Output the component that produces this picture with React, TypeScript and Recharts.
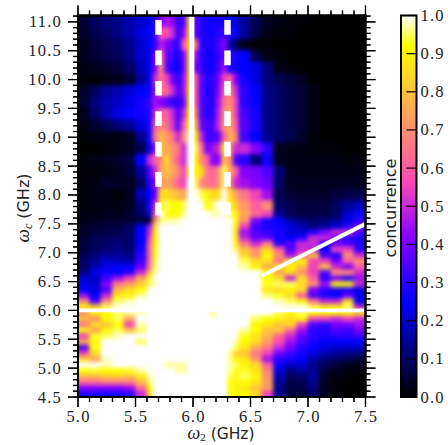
import { Label, ReferenceArea, ReferenceLine, Scatter, ScatterChart, XAxis, YAxis } from "recharts";

const CHART_W = 448;
const CHART_H = 445;
const PLOT = { left: 78, right: 365.5, top: 15.5, bottom: 397 };
const BAR = { left: 401, right: 416.5 };
const INK = "#222";
const TICK_FONT = "'Liberation Serif', serif";
const SANS_FONT = "'DejaVu Sans', sans-serif";

// measured cell centres, finer around the two qubit resonances
const colCentres = [
  5.05, 5.15, 5.25, 5.35, 5.45, 5.55,
  5.625, 5.675, 5.725, 5.775, 5.825, 5.875, 5.925, 5.975, 6.025, 6.075, 6.125, 6.175, 6.225, 6.275, 6.325, 6.375,
  6.45, 6.55, 6.65, 6.75, 6.85, 6.95, 7.05, 7.15, 7.25, 7.35, 7.45,
];
const rowCentres = [
  11.0, 10.8, 10.6, 10.4, 10.2, 10.0, 9.8, 9.6, 9.4, 9.2, 9.0, 8.8, 8.6, 8.4, 8.2, 8.0, 7.8,
  7.65, 7.55, 7.45, 7.35, 7.25, 7.15, 7.05, 6.95, 6.85, 6.75, 6.65, 6.55, 6.45, 6.35, 6.25, 6.15, 6.05,
  5.95, 5.85, 5.75, 5.65, 5.55, 5.45, 5.35, 5.25, 5.15, 5.05, 4.95, 4.85, 4.75, 4.65, 4.55,
];

// concurrence in hundredths, one array per row of the map
const r1100 = [5,9,12,14,17,20, 24,30,42,46,44,30,36,85,35,30,27,27,28,28,25,22, 15,8,3,2,1,1,0,0,0,0,0];
const r1080 = [4,8,10,13,17,22, 26,30,58,58,50,32,44,85,35,30,27,27,30,33,30,25, 15,7,2,1,1,0,0,0,0,0,0];
const r1060 = [3,6,8,10,14,20, 25,32,48,42,35,30,58,85,65,30,28,28,34,42,16,10, 3,1,1,0,0,0,0,0,0,0,0];
const r1040 = [3,5,7,9,13,20, 25,40,65,40,30,27,42,85,45,30,27,27,32,40,30,28, 25,8,2,1,0,0,0,0,0,0,0];
const r1020 = [2,3,4,6,10,18, 25,42,70,36,28,26,40,85,40,32,27,27,34,45,28,27, 25,22,12,2,1,0,0,0,0,0,0];
const r1000 = [1,1,2,3,5,15, 25,50,65,55,40,30,45,85,60,36,30,30,40,55,60,42, 27,22,12,8,6,3,0,0,0,0,0];
const r980 = [4,9,14,17,21,25, 27,45,65,62,50,35,45,88,60,35,28,30,42,60,70,50, 30,25,13,10,7,5,2,0,0,0,0];
const r960 = [5,12,17,20,23,27, 32,45,42,36,32,30,40,90,60,35,30,30,45,65,70,55, 30,26,13,10,7,5,2,0,0,0,0];
const r940 = [3,10,17,22,25,27, 30,50,60,60,50,35,50,92,70,35,30,30,48,70,75,55, 33,27,13,10,7,5,2,0,0,0,0];
const r920 = [2,5,8,12,15,22, 28,60,68,64,52,36,60,95,80,40,33,34,50,72,75,60, 35,28,13,10,7,5,2,0,0,0,0];
const r900 = [1,2,2,2,3,14, 28,65,78,72,65,50,70,100,90,50,33,33,38,60,78,68, 33,25,14,10,8,4,1,0,0,0,0];
const r880 = [0,0,1,2,3,8, 25,45,80,75,72,65,50,100,95,65,40,45,50,90,70,50, 50,42,30,3,2,2,1,1,1,0,0];
const r860 = [1,2,3,4,6,25, 50,60,70,85,70,60,50,100,92,70,60,42,42,80,70,35, 30,12,27,3,2,2,2,2,2,1,1];
const r840 = [1,1,2,3,5,15, 35,50,75,80,75,68,55,95,92,85,65,60,70,95,75,60, 42,40,35,12,3,2,2,2,2,2,2];
const r820 = [1,2,4,4,3,10, 30,42,72,75,70,60,55,100,95,70,65,62,70,95,70,50, 45,42,38,10,3,3,3,3,3,3,3];
const r800 = [1,2,2,1,3,18, 25,40,85,85,82,78,75,100,100,95,90,85,85,100,85,75, 65,55,45,8,5,4,4,4,6,7,8];
const r780 = [1,2,2,2,3,12, 28,50,90,95,92,92,95,100,100,100,92,95,100,100,92,82, 72,60,70,10,8,6,6,6,10,15,18];
const r765 = [2,2,3,3,5,10, 20,60,100,92,90,92,97,100,100,100,100,98,98,100,95,90, 75,62,55,15,8,7,7,7,10,20,27];
const r755 = [2,3,4,5,5,5, 5,70,95,97,97,98,100,100,100,100,100,100,100,100,100,93, 70,40,28,25,17,12,10,12,15,22,30];
const r745 = [3,5,6,7,10,22, 45,85,100,100,100,100,100,100,100,100,100,100,100,100,100,90, 55,33,28,27,22,17,12,15,22,30,40];
const r735 = [4,6,7,8,10,25, 50,88,100,100,100,100,100,100,100,100,100,100,100,100,100,88, 45,35,30,28,22,20,30,40,50,50,35];
const r725 = [5,8,9,10,10,25, 55,90,100,100,100,100,100,100,100,100,100,100,100,100,100,90, 50,38,38,27,25,30,50,50,40,30,28];
const r715 = [6,9,10,12,10,25, 60,92,100,100,100,100,100,100,100,100,100,100,100,100,100,90, 65,50,65,30,35,50,50,30,38,35,30];
const r705 = [6,9,11,13,11,28, 62,93,100,100,100,100,100,100,100,100,100,100,100,100,100,95, 80,70,85,60,35,50,50,25,55,55,30];
const r695 = [8,12,15,15,13,30, 62,93,100,100,100,100,100,100,100,100,100,100,100,100,100,100, 85,72,92,70,45,60,80,35,30,70,50];
const r685 = [10,15,20,18,17,33, 62,95,100,100,100,100,100,100,100,100,100,100,100,100,100,100, 95,85,85,65,85,90,55,55,40,60,70];
const r675 = [10,17,23,25,25,38, 65,95,100,100,100,100,100,100,100,100,100,100,100,100,100,100, 97,90,75,85,90,80,55,80,50,40,60];
const r665 = [12,22,27,25,30,50, 80,97,100,100,100,100,100,100,100,100,100,100,100,100,100,100, 100,100,92,75,85,70,55,35,70,70,50];
const r655 = [22,20,33,45,55,75, 93,100,100,100,100,100,100,100,100,100,100,100,100,100,100,100, 100,100,92,85,50,85,60,30,40,30,45];
const r645 = [22,20,42,65,72,82, 95,98,100,100,100,100,100,100,100,100,100,100,100,100,100,100, 100,100,93,95,95,85,70,45,90,90,50];
const r635 = [25,22,35,78,85,92, 100,100,100,100,100,100,100,100,100,100,100,100,100,100,100,100, 100,100,88,85,90,85,40,30,28,28,22];
const r625 = [45,25,50,88,90,97, 100,100,100,100,100,100,100,100,100,100,100,100,100,100,100,100, 100,100,96,93,85,60,35,28,25,38,25];
const r615 = [70,35,70,95,98,100, 100,100,100,100,100,100,100,100,100,100,100,100,100,100,100,100, 100,100,100,98,95,90,65,50,50,85,25];
const r605 = [90,85,95,100,100,100, 100,100,100,100,100,100,100,100,100,100,100,100,100,100,100,100, 100,100,100,100,100,100,95,90,90,95,50];
const r595 = [70,90,90,95,97,98, 100,100,100,100,100,100,100,100,100,100,100,95,100,100,100,100, 100,100,100,95,90,95,92,90,90,90,85];
const r585 = [80,70,92,95,75,100, 100,100,100,100,100,100,100,100,100,100,100,100,100,100,100,100, 100,95,92,90,85,92,55,55,50,55,50];
const r575 = [65,85,80,92,55,98, 100,100,100,100,100,100,100,100,100,100,100,100,100,100,100,100, 100,90,88,80,85,55,35,30,40,40,45];
const r565 = [90,75,90,95,80,95, 100,100,100,100,100,100,100,100,100,100,100,100,100,100,100,100, 97,92,80,80,62,45,30,30,35,33,40];
const r555 = [55,93,95,98,100,100, 100,100,100,100,100,100,100,100,100,100,100,100,100,100,100,100, 93,87,78,62,50,38,30,28,30,30,32];
const r545 = [75,90,100,100,100,95, 100,100,100,100,100,100,100,100,100,100,100,100,100,100,100,98, 92,85,72,57,45,35,28,25,25,25,25];
const r535 = [35,92,100,100,100,100, 100,100,100,100,100,100,100,100,100,100,100,100,100,100,100,95, 88,75,65,50,40,30,25,22,20,20,20];
const r525 = [55,85,100,100,100,100, 100,100,100,100,100,100,100,100,100,100,100,100,100,100,97,85, 80,65,55,40,33,27,22,17,15,13,12];
const r515 = [85,75,98,100,100,100, 100,100,100,100,100,100,100,100,100,100,100,100,100,100,97,90, 88,72,45,30,28,25,17,12,10,8,6];
const r505 = [100,100,98,100,100,100, 100,100,100,97,97,97,97,100,100,100,100,100,100,100,97,95, 90,85,60,27,20,20,13,8,5,3,2];
const r495 = [92,93,92,92,93,97, 100,100,100,100,100,97,97,100,100,100,100,100,100,100,97,93, 93,88,68,22,12,16,15,6,3,1,1];
const r485 = [78,78,82,82,80,88, 98,100,100,100,100,100,100,100,100,100,100,100,100,100,95,90, 95,90,70,18,9,10,15,4,2,1,0];
const r475 = [62,62,65,65,65,78, 95,100,100,100,100,100,100,100,100,100,100,100,100,100,93,90, 92,88,72,15,8,8,14,3,1,0,0];
const r465 = [42,42,42,42,45,62, 92,100,100,100,100,100,100,100,100,100,100,100,100,100,93,90, 88,80,72,14,7,7,12,3,1,0,0];
const r455 = [28,28,27,27,30,50, 85,100,100,100,100,100,100,100,100,100,100,100,100,100,93,92, 90,85,55,14,7,6,10,3,1,0,0];

const rows = [
  r1100, r1080, r1060, r1040, r1020, r1000, r980, r960, r940, r920, r900, r880, r860, r840, r820, r800, r780,
  r765, r755, r745, r735, r725, r715, r705, r695, r685, r675, r665, r655, r645, r635, r625, r615, r605,
  r595, r585, r575, r565, r555, r545, r535, r525, r515, r505, r495, r485, r475, r465, r455,
];

const xDomain = [5, 7.5];
const yDomain = [4.5, 11.11];
const xLabels = [5.0, 5.5, 6.0, 6.5, 7.0, 7.5];
const yLabels = [4.5, 5.0, 5.5, 6.0, 6.5, 7.0, 7.5, 8.0, 8.5, 9.0, 9.5, 10.0, 10.5, 11.0];
const barLabels = [0, 0.1, 0.2, 0.3, 0.4, 0.5, 0.6, 0.7, 0.8, 0.9, 1.0];
const xMinor = Array.from({ length: 26 }, (_, i) => Math.round(50 + i) / 10);
const yMinor = Array.from({ length: 67 }, (_, i) => Math.round(45 + i) / 10);

const PX_X = (PLOT.right - PLOT.left) / (xDomain[1] - xDomain[0]);
const PX_Y = (PLOT.bottom - PLOT.top) / (yDomain[1] - yDomain[0]);

const cells = rows.flatMap((row, r) =>
  row.map((value, c) => ({ x: colCentres[c], y: rowCentres[r], z: value / 100, c, r }))
);
const barPoints = barLabels.map((y) => ({ x: 0.5, y }));

const isMajor = (v: number, labels: number[]) => labels.some((l) => Math.abs(l - v) < 1e-6);

// anchors of the frame and of the tick marks on each side of the map
const markPoints = [
  ...xMinor.flatMap((x) => [
    { x, y: yDomain[0], side: "bottom", major: isMajor(x, xLabels) },
    { x, y: yDomain[1], side: "top", major: isMajor(x, xLabels) },
  ]),
  ...yMinor.flatMap((y) => [
    { x: xDomain[0], y, side: "left", major: isMajor(y, yLabels) },
    { x: xDomain[1], y, side: "right", major: isMajor(y, yLabels) },
  ]),
  { x: xDomain[0], y: yDomain[0], side: "frameH", major: false },
  { x: xDomain[0], y: yDomain[1], side: "frameH", major: false },
  { x: xDomain[0], y: yDomain[1], side: "frameV", major: false },
  { x: xDomain[1], y: yDomain[1], side: "frameV", major: false },
];

// gnuplot2 colormap
function gnuplot2(v: number) {
  const clip = (n: number) => Math.round(255 * Math.max(0, Math.min(1, n)));
  const red = v / 0.32 - 0.78125;
  const green = 2 * v - 0.84;
  const blue = v < 0.25 ? 4 * v : v < 0.92 ? -2 * v + 1.84 : v / 0.08 - 11.5;
  return `rgb(${clip(red)},${clip(green)},${clip(blue)})`;
}
const colorKnots = [1, 0.92, 0.57, 0.42, 0.25, 0];

function colEdge(c: number) {
  if (c < 0) return xDomain[0];
  if (c >= colCentres.length - 1) return xDomain[1];
  const a = colCentres[c];
  const b = colCentres[c + 1];
  // wide/fine boundaries fall on round values
  if (a === 5.55) return 5.6;
  if (a === 6.375) return 6.4;
  return (a + b) / 2;
}

function rowEdge(r: number) {
  if (r < 0) return yDomain[1];
  if (r >= rowCentres.length - 1) return yDomain[0];
  return (rowCentres[r] + rowCentres[r + 1]) / 2;
}

function HeatCell(props: any) {
  const { cx, cy, payload } = props;
  const { c, r, x, y, z } = payload;
  // edge cells run past the frame so the blur stays solid; the group is clipped
  const left = cx - (x - colEdge(c - 1)) * PX_X - (c === 0 ? 8 : 0.4);
  const right = cx + (colEdge(c) - x) * PX_X + (c === colCentres.length - 1 ? 8 : 0.4);
  const top = cy - (rowEdge(r - 1) - y) * PX_Y - (r === 0 ? 8 : 0.4);
  const bottom = cy + (y - rowEdge(r)) * PX_Y + (r === rowCentres.length - 1 ? 8 : 0.4);
  return <rect className="heat-rect" x={left} y={top} width={right - left} height={bottom - top} fill={gnuplot2(z)} />;
}

function Mark(props: any) {
  const { cx, cy, payload } = props;
  const { side, major } = payload;
  const len = major ? 10 : 5;
  const w = 1.2;
  if (side === "bottom") return <rect x={cx - w / 2} y={cy} width={w} height={len} fill="#000" />;
  if (side === "top") return <rect x={cx - w / 2} y={cy - len} width={w} height={len} fill="#000" />;
  if (side === "left") return <rect x={cx - len} y={cy - w / 2} width={len} height={w} fill="#000" />;
  if (side === "right") return <rect x={cx} y={cy - w / 2} width={len} height={w} fill="#000" />;
  if (side === "frameH") return <rect x={cx - 1} y={cy - 1} width={PLOT.right - PLOT.left + 2} height={2} fill="#000" />;
  return <rect x={cx - 1} y={cy - 1} width={2} height={PLOT.bottom - PLOT.top + 2} fill="#000" />;
}

// same marks on a top sheet, so that nothing in the chart layers can cover them
function MarkSheet() {
  const px = (x: number) => PLOT.left + (x - xDomain[0]) * PX_X;
  const py = (y: number) => PLOT.bottom - (y - yDomain[0]) * PX_Y;
  return (
    <svg width={CHART_W} height={CHART_H} style={{ position: "absolute", left: 0, top: 0, pointerEvents: "none" }}>
      <rect x={PLOT.left} y={PLOT.top} width={PLOT.right - PLOT.left} height={PLOT.bottom - PLOT.top} fill="none" stroke="#000" strokeWidth={2} />
      {xMinor.map((v) => {
        const len = isMajor(v, xLabels) ? 10 : 5;
        return (
          <g key={v} stroke="#000" strokeWidth={1.2}>
            <line x1={px(v)} x2={px(v)} y1={PLOT.bottom} y2={PLOT.bottom + len} />
            <line x1={px(v)} x2={px(v)} y1={PLOT.top} y2={PLOT.top - len} />
          </g>
        );
      })}
      {yMinor.map((v) => {
        const len = isMajor(v, yLabels) ? 10 : 5;
        return (
          <g key={v} stroke="#000" strokeWidth={1.2}>
            <line x1={PLOT.left} x2={PLOT.left - len} y1={py(v)} y2={py(v)} />
            <line x1={PLOT.right} x2={PLOT.right + len} y1={py(v)} y2={py(v)} />
          </g>
        );
      })}
    </svg>
  );
}

function BottomLabel({ x, y, payload }: any) {
  return (
    <text x={x + 0.5} y={y + 25} textAnchor="middle" fontFamily={TICK_FONT} fontSize={16.5} letterSpacing={1.2} fill={INK}>
      {payload.value.toFixed(1)}
    </text>
  );
}

function LeftLabel({ x, y, payload }: any) {
  return (
    <text x={x - 16} y={y + 5.5} textAnchor="end" fontFamily={TICK_FONT} fontSize={16.5} letterSpacing={1.2} fill={INK}>
      {payload.value.toFixed(1)}
    </text>
  );
}

function BarLabel({ x, y, payload }: any) {
  return (
    <text x={x + 4} y={y + 5.5} fontFamily={TICK_FONT} fontSize={16.5} letterSpacing={1.2} fill={INK}>
      {payload.value.toFixed(1)}
    </text>
  );
}

function XTitle() {
  return (
    <text x={221} y={439} textAnchor="middle" fill={INK} fontFamily={SANS_FONT} fontSize={15.5}>
      <tspan fontFamily={TICK_FONT} fontStyle="italic" fontSize={18}>ω</tspan>
      <tspan fontFamily={TICK_FONT} fontSize={11} dy={2}>2</tspan>
      <tspan dy={-2} dx={5}>(GHz)</tspan>
    </text>
  );
}

function YTitle() {
  return (
    <text transform="translate(29,208) rotate(-90)" textAnchor="middle" fill={INK} fontFamily={SANS_FONT} fontSize={16}>
      <tspan fontFamily={TICK_FONT} fontStyle="italic" fontSize={19}>ω</tspan>
      <tspan fontFamily={TICK_FONT} fontStyle="italic" fontSize={12} dy={3}>c</tspan>
      <tspan dy={-3} dx={5}>(GHz)</tspan>
    </text>
  );
}

function BarTitle() {
  return (
    <text transform="translate(396,208) rotate(-90)" textAnchor="middle" fill={INK} fontFamily={SANS_FONT} fontSize={16}>
      concurrence
    </text>
  );
}

export default function App() {
  return (
    <div style={{ position: "absolute", left: 0, top: 0, width: CHART_W, height: CHART_H, background: "#fff", overflow: "hidden" }}>
      <style>{`.recharts-scatter:has(.heat-rect) { filter: url(#heatBlur); clip-path: url(#plotClip); }`}</style>
      <div style={{ position: "absolute", left: 0, top: 0 }}>
        <ScatterChart width={CHART_W} height={CHART_H} margin={{ top: 0, right: 0, bottom: 0, left: 0 }}>
          <defs>
            <filter id="heatBlur" x="-5%" y="-5%" width="110%" height="110%" colorInterpolationFilters="sRGB">
              <feGaussianBlur stdDeviation="2" />
            </filter>
            <clipPath id="plotClip">
              <rect x={PLOT.left} y={PLOT.top} width={PLOT.right - PLOT.left} height={PLOT.bottom - PLOT.top} />
            </clipPath>
          </defs>
          <XAxis xAxisId="b" type="number" dataKey="x" orientation="bottom" domain={xDomain} ticks={xLabels} interval={0}
            height={CHART_H - PLOT.bottom} tickSize={0} tickMargin={0} tick={BottomLabel} tickLine={false} axisLine={false}>
            <Label content={XTitle} />
          </XAxis>
          <XAxis xAxisId="t" type="number" dataKey="x" orientation="top" domain={xDomain} ticks={xLabels} interval={0}
            height={PLOT.top} tick={false} tickLine={false} axisLine={false} />
          <YAxis yAxisId="l" type="number" dataKey="y" orientation="left" domain={yDomain} ticks={yLabels} interval={0}
            width={PLOT.left} tickSize={0} tickMargin={0} tick={LeftLabel} tickLine={false} axisLine={false}>
            <Label content={YTitle} />
          </YAxis>
          <YAxis yAxisId="r" type="number" dataKey="y" orientation="right" domain={yDomain} ticks={yLabels} interval={0}
            width={CHART_W - PLOT.right} tick={false} tickLine={false} axisLine={false} />
          <Scatter xAxisId="b" yAxisId="l" data={cells} shape={HeatCell} isAnimationActive={false} zIndex={50} />
          <ReferenceLine xAxisId="b" yAxisId="l" segment={[{ x: 5.99, y: 7.7 }, { x: 5.99, y: 11.11 }]} stroke="#fff" strokeWidth={5} />
          <ReferenceLine xAxisId="b" yAxisId="l" segment={[{ x: 5.7, y: 11.03 }, { x: 5.7, y: 7.65 }]} stroke="#fff" strokeWidth={6.5} strokeDasharray="14.7 15.7" />
          <ReferenceLine xAxisId="b" yAxisId="l" segment={[{ x: 6.3, y: 11.03 }, { x: 6.3, y: 7.65 }]} stroke="#fff" strokeWidth={6.5} strokeDasharray="14.7 15.7" />
          <ReferenceLine xAxisId="b" yAxisId="l" segment={[{ x: 5.0, y: 6.0 }, { x: 7.5, y: 6.0 }]} stroke="#fff" strokeWidth={3.8} />
          <ReferenceLine xAxisId="b" yAxisId="l" segment={[{ x: 6.6, y: 6.6 }, { x: 7.5, y: 7.5 }]} stroke="#fff" strokeWidth={4} />
          <Scatter xAxisId="b" yAxisId="l" data={markPoints} shape={Mark} isAnimationActive={false} zIndex={1500} />
        </ScatterChart>
      </div>
      <div style={{ position: "absolute", left: 0, top: 0 }}>
        <ScatterChart width={CHART_W} height={CHART_H} margin={{ top: PLOT.top, right: 0, bottom: CHART_H - PLOT.bottom, left: BAR.left }}>
          <defs>
            <linearGradient id="gnuplot2Bar" x1="0" y1="0" x2="0" y2="1">
              {colorKnots.map((k) => (
                <stop key={k} offset={1 - k} stopColor={gnuplot2(k)} />
              ))}
            </linearGradient>
          </defs>
          <XAxis type="number" dataKey="x" domain={[0, 1]} height={0} hide />
          <YAxis type="number" dataKey="y" orientation="right" domain={[0, 1]} ticks={barLabels} interval={0}
            width={CHART_W - BAR.right} tickSize={0} tickMargin={0} tick={BarLabel} axisLine={false} tickLine={false}>
            <Label content={BarTitle} />
          </YAxis>
          <Scatter data={barPoints} shape={() => null} isAnimationActive={false} />
          <ReferenceArea x1={0} x2={1} y1={0} y2={1} fill="url(#gnuplot2Bar)" fillOpacity={1} stroke="#000" strokeWidth={2} />
          {barLabels.map((v) => (
            <ReferenceLine key={v} segment={[{ x: 0.35, y: v }, { x: 1, y: v }]} stroke="#000" strokeWidth={1.2} />
          ))}
        </ScatterChart>
      </div>
      <MarkSheet />
    </div>
  );
}
